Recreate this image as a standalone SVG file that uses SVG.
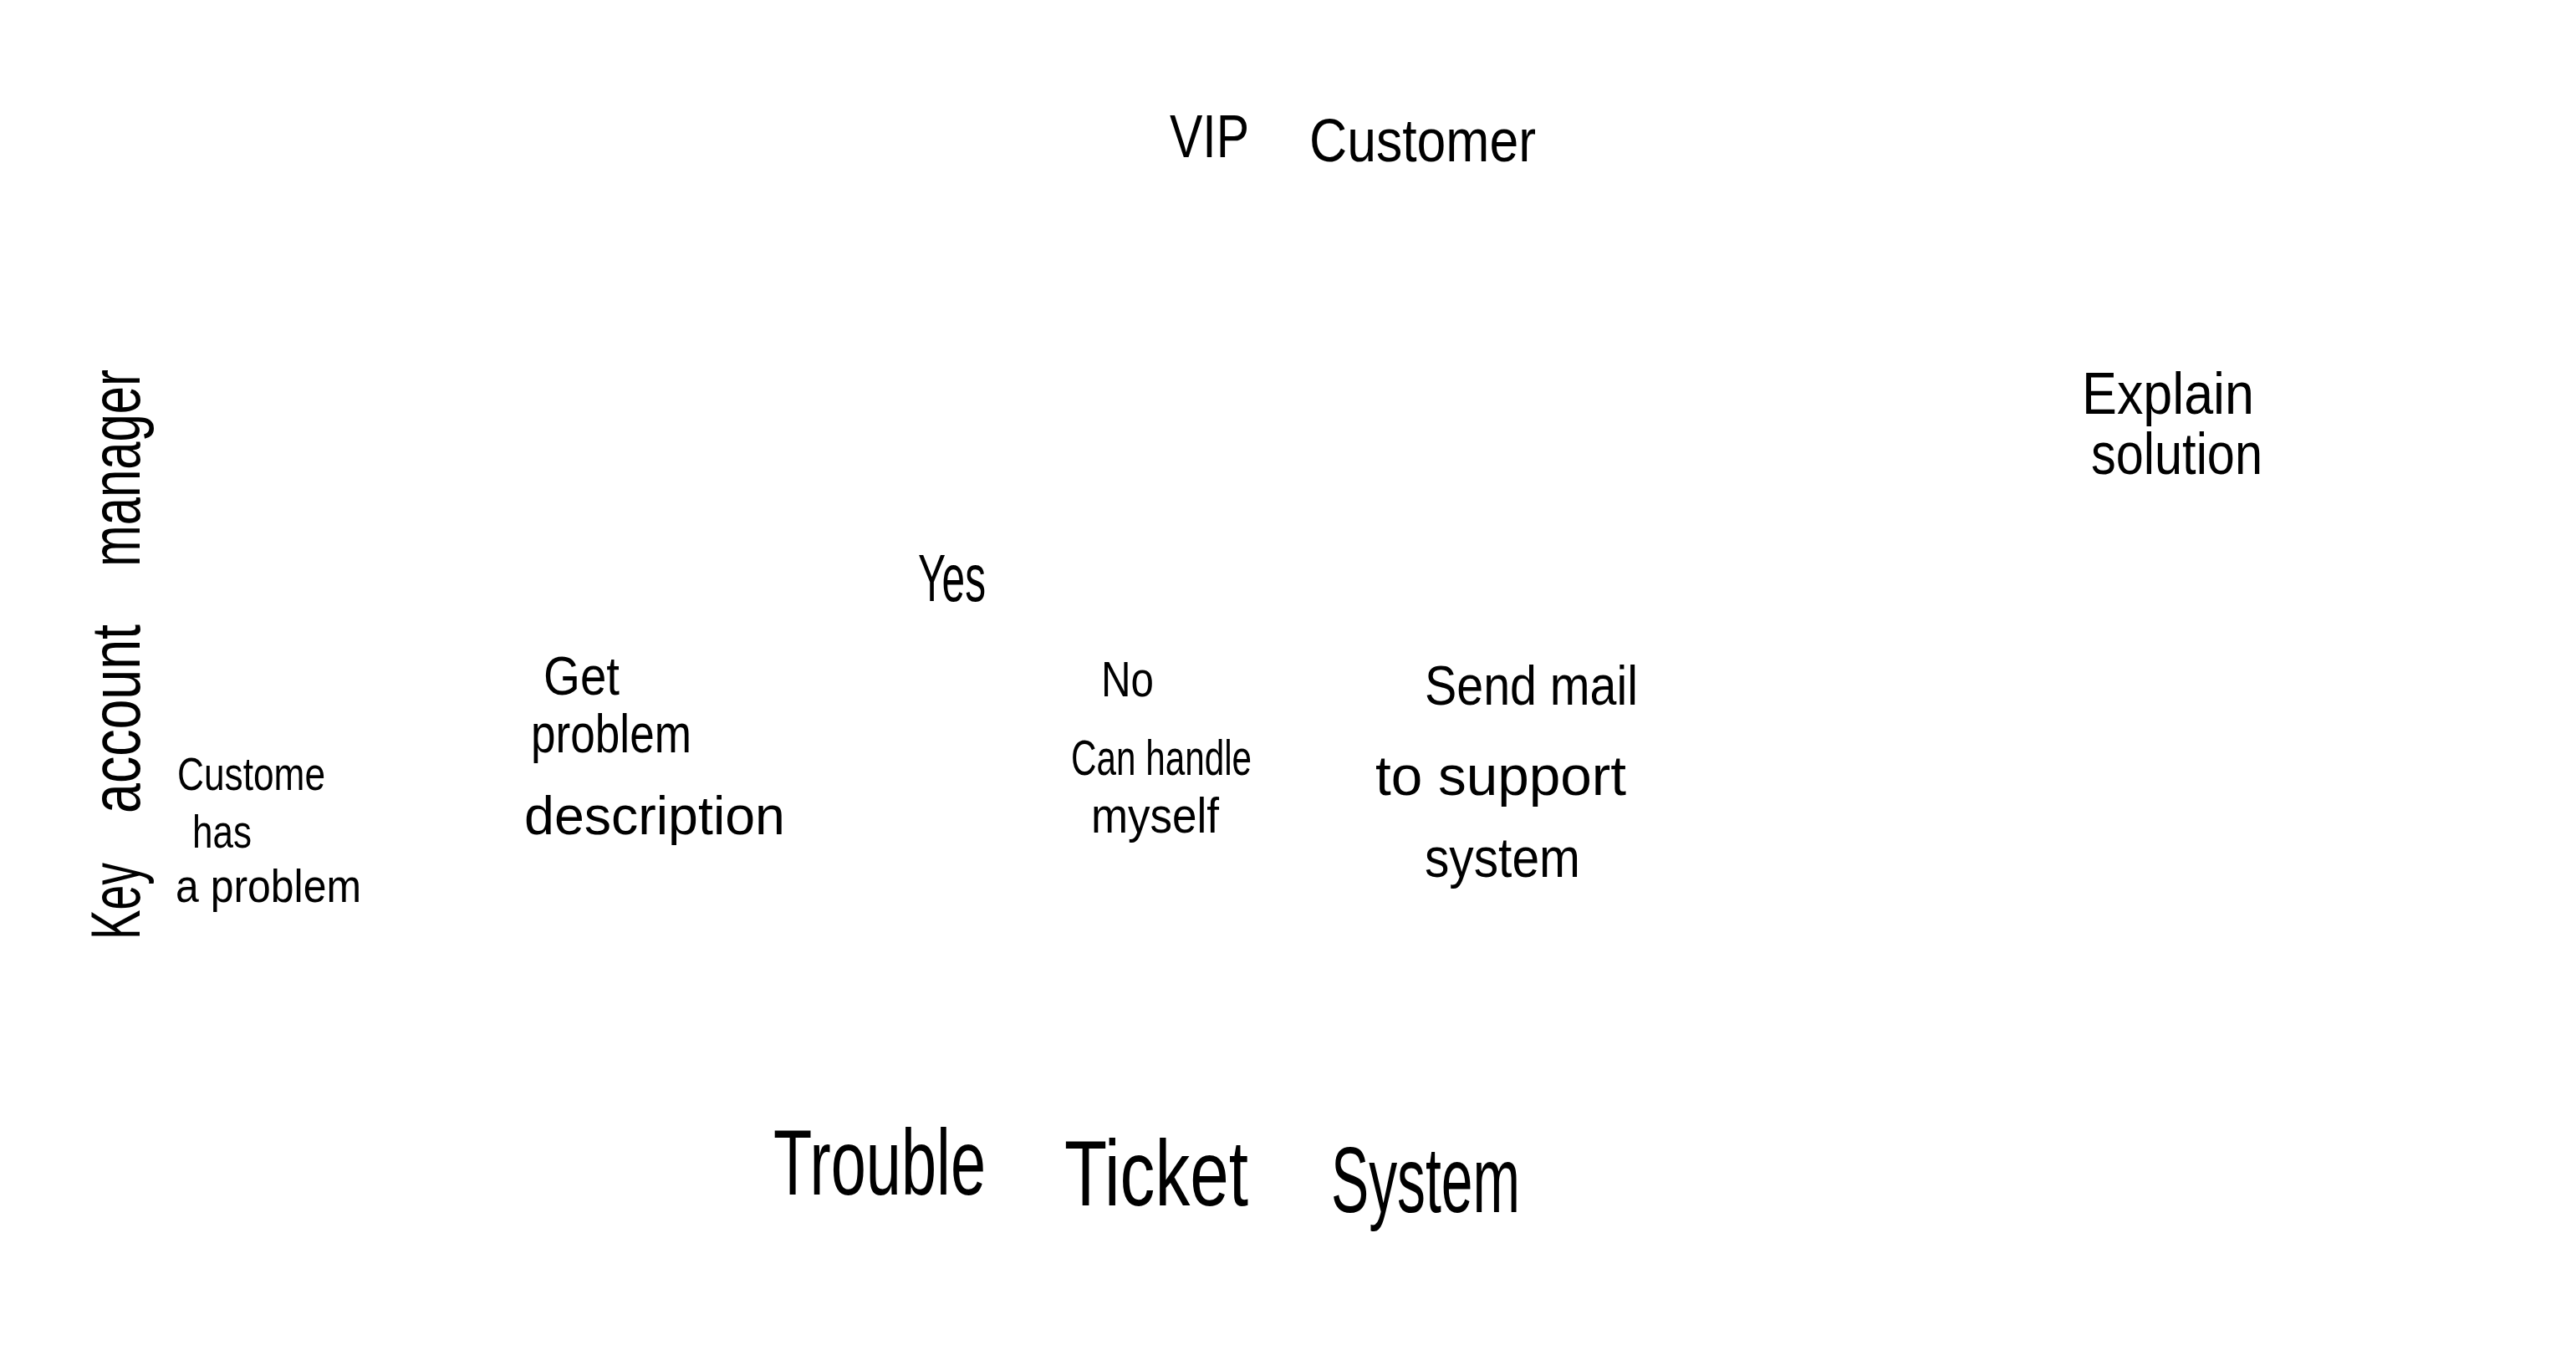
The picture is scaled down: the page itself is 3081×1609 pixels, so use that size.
<svg xmlns="http://www.w3.org/2000/svg" width="3081" height="1609" viewBox="0 0 3081 1609">
<style>
text{font-family:"Liberation Sans Narrow","Liberation Sans",Arial,sans-serif;fill:#000;}
tspan{}
</style>
<rect width="3081" height="1609" fill="#fff"/>
<g id="pool-vip-customer"><text font-size="72"><tspan x="1399" y="188" textLength="94" lengthAdjust="spacingAndGlyphs">VIP</tspan> <tspan x="1566" y="193" textLength="271" lengthAdjust="spacingAndGlyphs">Customer</tspan></text></g>
<g id="pool-key-account-manager"><text font-size="84" transform="translate(167,1124) rotate(-90)"><tspan x="0" y="0" textLength="92" lengthAdjust="spacingAndGlyphs">Key</tspan> <tspan x="151" y="0" textLength="226" lengthAdjust="spacingAndGlyphs">account</tspan> <tspan x="446" y="0" textLength="236" lengthAdjust="spacingAndGlyphs">manager</tspan></text></g>
<g id="pool-trouble-ticket-system"><text font-size="112"><tspan x="925" y="1429" textLength="254" lengthAdjust="spacingAndGlyphs">Trouble</tspan> <tspan x="1273" y="1442" textLength="220" lengthAdjust="spacingAndGlyphs">Ticket</tspan> <tspan x="1592" y="1450" textLength="226" lengthAdjust="spacingAndGlyphs">System</tspan></text></g>
<g id="node-customer-has-problem"><text font-size="56"><tspan x="212" y="945" textLength="177" lengthAdjust="spacingAndGlyphs">Custome</tspan><tspan x="230" y="1014" textLength="71" lengthAdjust="spacingAndGlyphs">has</tspan><tspan x="210" y="1079" textLength="222" lengthAdjust="spacingAndGlyphs">a problem</tspan></text></g>
<g id="node-get-problem-description"><text font-size="64"><tspan x="650" y="831" textLength="91" lengthAdjust="spacingAndGlyphs">Get</tspan><tspan x="635" y="900" textLength="192" lengthAdjust="spacingAndGlyphs">problem</tspan><tspan x="627" y="998" textLength="312" lengthAdjust="spacingAndGlyphs">description</tspan></text></g>
<g id="label-yes"><text font-size="80" x="1098" y="719" textLength="81" lengthAdjust="spacingAndGlyphs">Yes</text></g>
<g id="node-no-can-handle"><text font-size="60"><tspan x="1317" y="833" textLength="63" lengthAdjust="spacingAndGlyphs">No</tspan><tspan x="1281" y="927" textLength="216" lengthAdjust="spacingAndGlyphs">Can handle</tspan><tspan x="1305" y="996" textLength="153" lengthAdjust="spacingAndGlyphs">myself</tspan></text></g>
<g id="node-send-mail"><text font-size="66"><tspan x="1704" y="843" textLength="255" lengthAdjust="spacingAndGlyphs">Send mail</tspan><tspan x="1645" y="951" textLength="300" lengthAdjust="spacingAndGlyphs">to support</tspan><tspan x="1704" y="1049" textLength="186" lengthAdjust="spacingAndGlyphs">system</tspan></text></g>
<g id="node-explain-solution"><text font-size="70"><tspan x="2490" y="495" textLength="206" lengthAdjust="spacingAndGlyphs">Explain</tspan><tspan x="2501" y="567" textLength="205" lengthAdjust="spacingAndGlyphs">solution</tspan></text></g>
<g id="connectors"></g>
</svg>
